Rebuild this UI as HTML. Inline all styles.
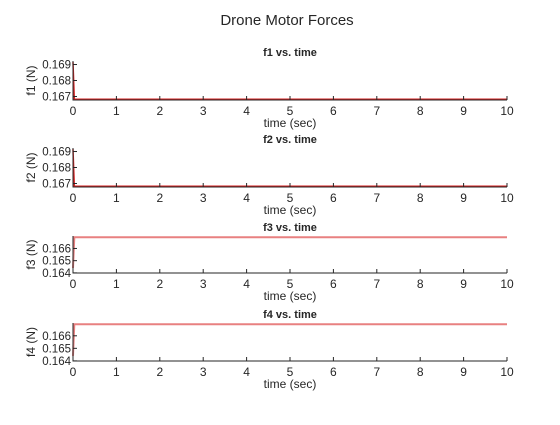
<!DOCTYPE html>
<html><head><meta charset="utf-8"><style>
body{margin:0;background:#fff;width:560px;height:420px;overflow:hidden}
svg text{font-family:"Liberation Sans",Arial,sans-serif;fill:#262626}
</style></head><body>
<svg id="c" width="560" height="420" xmlns="http://www.w3.org/2000/svg">
<text x="287" y="25" font-size="15" text-anchor="middle">Drone Motor Forces</text>
</svg>
<script>
const xTicks=[0,1,2,3,4,5,6,7,8,9,10];
const names=["f1","f2","f3","f4"];
const yTicks1=[0.167,0.168,0.169];
const yTicks3=[0.164,0.165,0.166];
const tVals=[0,0.03,10];
const f1Vals=[0.16915,0.16683,0.16683];
const f2Vals=[0.16915,0.16683,0.16683];
const f3Vals=[0.16440,0.16692,0.16692];
const f4Vals=[0.16440,0.16692,0.16692];
const series=[f1Vals,f2Vals,f3Vals,f4Vals];
const ns="http://www.w3.org/2000/svg";
const svg=document.getElementById('c');
const panels=[
 {top:61,bot:100,ymin:0.16678,ymax:0.16922,ticks:yTicks1,color:"#d62020",w:1.5},
 {top:148,bot:187,ymin:0.16678,ymax:0.16922,ticks:yTicks1,color:"#d62020",w:1.5},
 {top:236,bot:273,ymin:0.16399,ymax:0.16702,ticks:yTicks3,color:"#e88080",w:2},
 {top:323,bot:361,ymin:0.16399,ymax:0.16702,ticks:yTicks3,color:"#e88080",w:2}];
const X0=73,X1=507;
function mk(tag,attrs,txt){const e=document.createElementNS(ns,tag);for(const k in attrs)e.setAttribute(k,attrs[k]);if(txt!==undefined)e.textContent=txt;svg.appendChild(e);return e;}
panels.forEach((p,i)=>{
 const xs=v=>X0+(v-0)/(10-0)*(X1-X0);
 const ys=v=>p.bot-(v-p.ymin)/(p.ymax-p.ymin)*(p.bot-p.top);
 const pts=tVals.map((t,j)=>xs(t)+","+ys(series[i][j])).join(" ");
 let l=mk('polyline',{points:pts,fill:"none",stroke:p.color,"stroke-width":p.w});
 
 
 let a=mk('path',{d:`M${X0},${p.top}V${p.bot}H${X1}`,fill:"none",stroke:"#262626","stroke-width":1});
 
 
 xTicks.forEach(t=>{
  const x=xs(t);
  mk('line',{x1:x,x2:x,y1:p.bot,y2:p.bot-4,stroke:"#262626"});
  let tx=mk('text',{x:x,y:p.bot+15,"font-size":"12","text-anchor":"middle"},String(t));
  
  
 });
 p.ticks.forEach(v=>{
  const y=ys(v);
  mk('line',{x1:X0,x2:X0+4,y1:y,y2:y,stroke:"#262626"});
  let tx=mk('text',{x:X0-2,y:y+4,"font-size":"11.5","text-anchor":"end"},v.toFixed(3));
  
  
 });
 let tt=mk('text',{x:(X0+X1)/2,y:p.top-5,"font-size":"11","font-weight":"bold","text-anchor":"middle"},names[i]+" vs. time");
 
 
 let xl=mk('text',{x:(X0+X1)/2,y:p.bot+27,"font-size":"12","text-anchor":"middle"},"time (sec)");
 
 
 const cy=(p.top+p.bot)/2;
 let yl=mk('text',{x:35,y:cy,"font-size":"12","text-anchor":"middle",transform:`rotate(-90 35 ${cy})`},names[i]+" (N)");
 
 
});
</script>
</body></html>
